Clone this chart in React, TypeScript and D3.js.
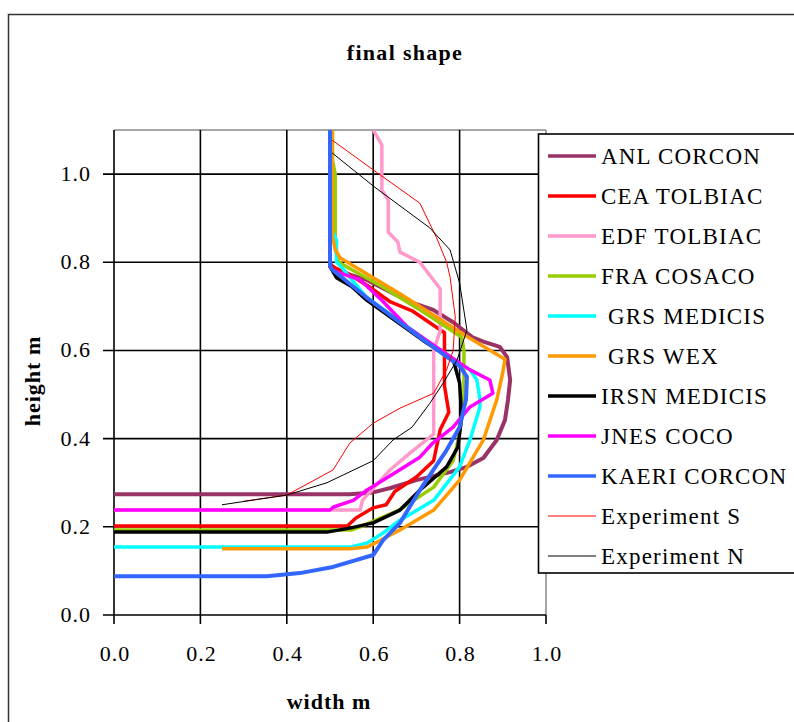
import React from 'react';
import * as d3 from 'd3';

type Pt = [number, number];

// width (m), height (m) pairs
const anlCorcon: Pt[] = [
  [0, 0.274], [0.546, 0.274], [0.6, 0.278], [0.64, 0.288], [0.7, 0.306], [0.778, 0.324],
  [0.817, 0.336], [0.855, 0.356], [0.886, 0.397], [0.905, 0.442], [0.912, 0.488],
  [0.917, 0.533], [0.91, 0.585], [0.893, 0.608], [0.855, 0.62], [0.83, 0.63],
  [0.785, 0.664], [0.739, 0.692], [0.685, 0.71], [0.585, 0.76], [0.52, 0.78],
  [0.5, 0.795], [0.5, 1.1],
];
const ceaTolbiac: Pt[] = [
  [0, 0.202], [0.54, 0.202], [0.56, 0.22], [0.6, 0.243], [0.63, 0.25], [0.65, 0.28],
  [0.7, 0.313], [0.74, 0.35], [0.755, 0.42], [0.775, 0.46], [0.765, 0.52], [0.765, 0.64],
  [0.69, 0.69], [0.64, 0.71], [0.59, 0.745], [0.54, 0.775], [0.505, 0.79], [0.5, 0.8],
  [0.5, 1.1],
];
const edfTolbiac: Pt[] = [
  [0, 0.238], [0.57, 0.238], [0.575, 0.26], [0.64, 0.33], [0.685, 0.367], [0.74, 0.41],
  [0.74, 0.6], [0.755, 0.645], [0.755, 0.74], [0.708, 0.8], [0.662, 0.823], [0.657, 0.846],
  [0.635, 0.868], [0.635, 0.941], [0.62, 0.964], [0.62, 1.066], [0.6, 1.1],
];
const fraCosaco: Pt[] = [
  [0, 0.193], [0.55, 0.193], [0.57, 0.2], [0.66, 0.238], [0.74, 0.29], [0.785, 0.35],
  [0.8, 0.41], [0.81, 0.5], [0.81, 0.6], [0.805, 0.63], [0.72, 0.685], [0.62, 0.745],
  [0.52, 0.8], [0.512, 0.83], [0.512, 1.0], [0.506, 1.03], [0.506, 1.1],
];
const grsMedicis: Pt[] = [
  [0, 0.154], [0.546, 0.154], [0.585, 0.163], [0.623, 0.186], [0.662, 0.215], [0.74, 0.26],
  [0.8, 0.336], [0.824, 0.397], [0.847, 0.472], [0.847, 0.49], [0.84, 0.533], [0.824, 0.556],
  [0.785, 0.578], [0.7, 0.64], [0.585, 0.72], [0.523, 0.793], [0.515, 0.8], [0.515, 0.85],
  [0.505, 0.87], [0.505, 1.1],
];
const grsWex: Pt[] = [
  [0.25, 0.15], [0.546, 0.15], [0.585, 0.154], [0.61, 0.166], [0.662, 0.193], [0.74, 0.238],
  [0.8, 0.306], [0.855, 0.397], [0.886, 0.488], [0.9, 0.55], [0.905, 0.58], [0.82, 0.63],
  [0.66, 0.73], [0.523, 0.81], [0.512, 0.83], [0.505, 0.86], [0.505, 1.1],
];
const irsnMedicis: Pt[] = [
  [0, 0.188], [0.493, 0.188], [0.546, 0.197], [0.6, 0.209], [0.662, 0.238], [0.708, 0.283],
  [0.77, 0.336], [0.796, 0.381], [0.805, 0.45], [0.8, 0.526], [0.785, 0.58], [0.724, 0.617],
  [0.585, 0.714], [0.55, 0.745], [0.515, 0.765], [0.5, 0.79], [0.5, 1.1],
];
const jnesCoco: Pt[] = [
  [0, 0.238], [0.5, 0.238], [0.508, 0.245], [0.554, 0.26], [0.585, 0.283], [0.646, 0.32],
  [0.708, 0.358], [0.738, 0.39], [0.785, 0.426], [0.824, 0.472], [0.877, 0.503], [0.87, 0.533],
  [0.824, 0.556], [0.81, 0.565], [0.68, 0.652], [0.62, 0.714], [0.57, 0.76], [0.51, 0.78],
  [0.5, 0.79], [0.5, 1.1],
];
const kaeriCorcon: Pt[] = [
  [0, 0.088], [0.354, 0.088], [0.43, 0.095], [0.507, 0.109], [0.6, 0.136], [0.623, 0.17],
  [0.662, 0.209], [0.708, 0.283], [0.77, 0.374], [0.8, 0.426], [0.815, 0.49], [0.817, 0.54],
  [0.8, 0.565], [0.716, 0.624], [0.585, 0.72], [0.507, 0.782], [0.5, 0.79], [0.5, 1.1],
];
const experimentS: Pt[] = [
  [0.3, 0.258], [0.4, 0.272], [0.507, 0.329], [0.546, 0.39], [0.6, 0.435], [0.662, 0.469],
  [0.74, 0.503], [0.77, 0.556], [0.785, 0.6], [0.79, 0.676], [0.778, 0.766], [0.77, 0.8],
  [0.747, 0.855], [0.708, 0.934], [0.608, 1.004], [0.505, 1.077],
];
const experimentN: Pt[] = [
  [0.25, 0.25], [0.4, 0.272], [0.493, 0.3], [0.6, 0.35], [0.646, 0.397], [0.69, 0.426],
  [0.731, 0.48], [0.762, 0.526], [0.794, 0.578], [0.817, 0.646], [0.8, 0.753], [0.778, 0.828],
  [0.731, 0.878], [0.604, 0.97], [0.505, 1.048],
];

const seriesNames = [
  'ANL CORCON', 'CEA TOLBIAC', 'EDF TOLBIAC', 'FRA COSACO', ' GRS MEDICIS', ' GRS WEX',
  'IRSN MEDICIS', 'JNES COCO', 'KAERI CORCON', 'Experiment S', 'Experiment N',
];
const seriesData = [
  anlCorcon, ceaTolbiac, edfTolbiac, fraCosaco, grsMedicis, grsWex,
  irsnMedicis, jnesCoco, kaeriCorcon, experimentS, experimentN,
];
const seriesColors = [
  '#993366', '#ff0000', '#ff99cc', '#99cc00', '#00ffff', '#ff9900',
  '#000000', '#ff00ff', '#3366ff', '#ff0000', '#000000',
];
const seriesWidths = [4, 3.5, 3.5, 3.5, 3.5, 3.5, 3.5, 3.5, 4, 1, 1];

const xTicks = [0, 0.2, 0.4, 0.6, 0.8, 1.0];
const yTicks = [0, 0.2, 0.4, 0.6, 0.8, 1.0];

const W = 794, H = 722;
const plot = { left: 114, right: 546, top: 130, bottom: 615 };
const font = '"Liberation Serif", "Times New Roman", serif';

export default function App() {
  const x = d3.scaleLinear().domain([0, 1]).range([plot.left, plot.right]);
  const y = d3.scaleLinear().domain([0, 1.1]).range([plot.bottom, plot.top]);
  const line = d3.line<Pt>().x(d => x(d[0])).y(d => y(d[1]));
  const fmt = d3.format('.1f');

  return (
    <svg width={W} height={H} style={{ position: 'absolute', left: 0, top: 0, background: '#fff' }}>
      <rect x={8.5} y={14.5} width={820} height={740} fill="#fff" stroke="#333" strokeWidth={1.5} />

      <text x={405} y={60} textAnchor="middle" fontFamily={font} fontWeight="bold" fontSize={22} letterSpacing={1.3}>
        final shape
      </text>

      {/* plot border (top / right) */}
      <line x1={plot.left} x2={plot.right} y1={plot.top} y2={plot.top} stroke="#888" strokeWidth={1.5} />
      <line x1={plot.right} x2={plot.right} y1={plot.top} y2={plot.bottom} stroke="#888" strokeWidth={1.5} />

      {/* grid + ticks */}
      {xTicks.map(t => (
        <line key={'gx' + t} x1={x(t)} x2={x(t)} y1={t === 1 ? plot.bottom : plot.top} y2={plot.bottom + 9}
          stroke="#000" strokeWidth={1.6} />
      ))}
      {yTicks.map(t => (
        <line key={'gy' + t} x1={plot.left - 11} x2={plot.right} y1={y(t)} y2={y(t)}
          stroke="#000" strokeWidth={1.6} />
      ))}

      {xTicks.map(t => (
        <text key={'tx' + t} x={x(t) + 1} y={661} textAnchor="middle" fontFamily={font} fontSize={22} letterSpacing={1}>
          {fmt(t)}
        </text>
      ))}
      {yTicks.map(t => (
        <text key={'ty' + t} x={91} y={y(t) + 7} textAnchor="end" fontFamily={font} fontSize={22} letterSpacing={1}>
          {fmt(t)}
        </text>
      ))}

      <text x={329} y={709} textAnchor="middle" fontFamily={font} fontWeight="bold" fontSize={22} letterSpacing={1}>
        width m
      </text>
      <text transform="translate(40,381) rotate(-90)" textAnchor="middle" fontFamily={font} fontWeight="bold"
        fontSize={22} letterSpacing={1}>
        height m
      </text>

      {/* series */}
      <g fill="none" strokeLinejoin="round">
        {seriesData.map((s, i) => (
          <path key={seriesNames[i]} d={line(s) || ''} stroke={seriesColors[i]} strokeWidth={seriesWidths[i]} />
        ))}
      </g>

      {/* legend */}
      <rect x={538.5} y={134} width={300} height={439} fill="#fff" stroke="#000" strokeWidth={1.6} />
      {seriesNames.map((n, i) => {
        const ly = 156 + i * 40;
        return (
          <g key={'lg' + i}>
            <line x1={548} x2={596} y1={ly} y2={ly} stroke={seriesColors[i]} strokeWidth={seriesWidths[i] > 2 ? 3.5 : 1.2} />
            <text x={601} y={ly + 8} fontFamily={font} fontSize={23} letterSpacing={1.2} style={{ whiteSpace: 'pre' }}>
              {n}
            </text>
          </g>
        );
      })}
    </svg>
  );
}
